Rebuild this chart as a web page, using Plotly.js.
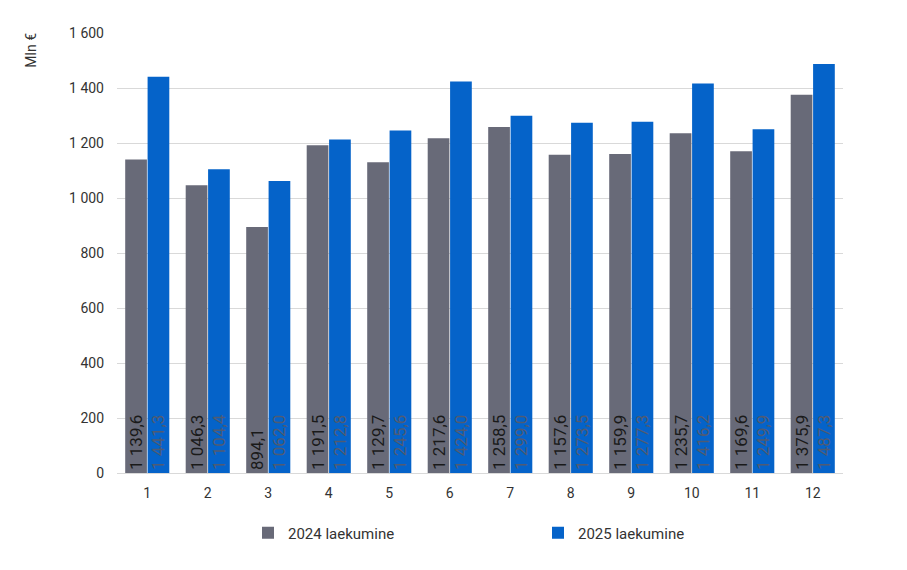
<!DOCTYPE html>
<html><head><meta charset="utf-8">
<script src="https://cdn.plot.ly/plotly-3.0.1.min.js"></script>
<style>body{margin:0}#c{width:907px;height:570px}</style>
</head><body><div id="c"></div>
<script>
const months = ['1','2','3','4','5','6','7','8','9','10','11','12'];
const v2024 = [1139.6,1046.3,894.1,1191.5,1129.7,1217.6,1258.5,1157.6,1159.9,1235.7,1169.6,1375.9];
const v2025 = [1441.3,1104.4,1062.0,1212.8,1245.6,1424.0,1299.0,1273.5,1277.3,1416.2,1249.9,1487.3];
const yTicks = [0,200,400,600,800,1000,1200,1400,1600];
const names = ['2024 laekumine','2025 laekumine'];

function fmt(v){
  const s = v.toFixed(1).split('.');
  const int = s[0].replace(/\B(?=(\d{3})+(?!\d))/g,' ');
  return int + ',' + s[1];
}
const font = 'Roboto, sans-serif';
const mk = (vals, name, color, tcolor, lg) => ({
  type:'bar', x:months, y:vals, name:name, legend:lg,
  marker:{color:color},
  text: vals.map(fmt), textposition:'inside', insidetextanchor:'start',
  textangle:-90, constraintext:'none',
  textfont:{family:font, size:17, color:tcolor},
  hoverinfo:'none'
});
const data = [mk(v2024,names[0],'#686a78','#1a1a1a','legend'), mk(v2025,names[1],'#0563c9','#4f5b73','legend2')];
const lg = (x) => ({orientation:'h', xref:'container', yref:'container', x:x, xanchor:'left', y:37/570, yanchor:'middle',
          font:{size:15, color:'#333'}, itemwidth:30, bgcolor:'rgba(0,0,0,0)'});
const layout = {
  width:907, height:570,
  margin:{l:117, r:64, t:33, b:97},
  barmode:'group', bargap:0.26, bargroupgap:0.03,
  paper_bgcolor:'#fff', plot_bgcolor:'#fff',
  separators:', ',
  font:{family:font, size:14, color:'#333'},
  xaxis:{type:'category', showgrid:false, zeroline:false, showline:false, ticks:'', ticklabelstandoff:10, tickfont:{size:14, color:'#333'}, automargin:false},
  yaxis:{range:[0,1600], tickvals:yTicks, tickformat:',d', showgrid:true, gridcolor:'#d9d9d9', gridwidth:1,
         zeroline:true, zerolinecolor:'#d9d9d9', zerolinewidth:1, ticks:'', ticklabelstandoff:12, tickfont:{size:14,color:'#333'}, automargin:false},
  showlegend:true,
  legend: lg(248/907),
  legend2: lg(538/907),
  annotations:[{text:'Mln €', xref:'paper', yref:'paper', x:-0.118, y:1.005, xanchor:'center', yanchor:'top',
                textangle:-90, showarrow:false, font:{size:14, color:'#333'}}]
};
Plotly.newPlot('c', data, layout, {staticPlot:true});
</script></body></html>
